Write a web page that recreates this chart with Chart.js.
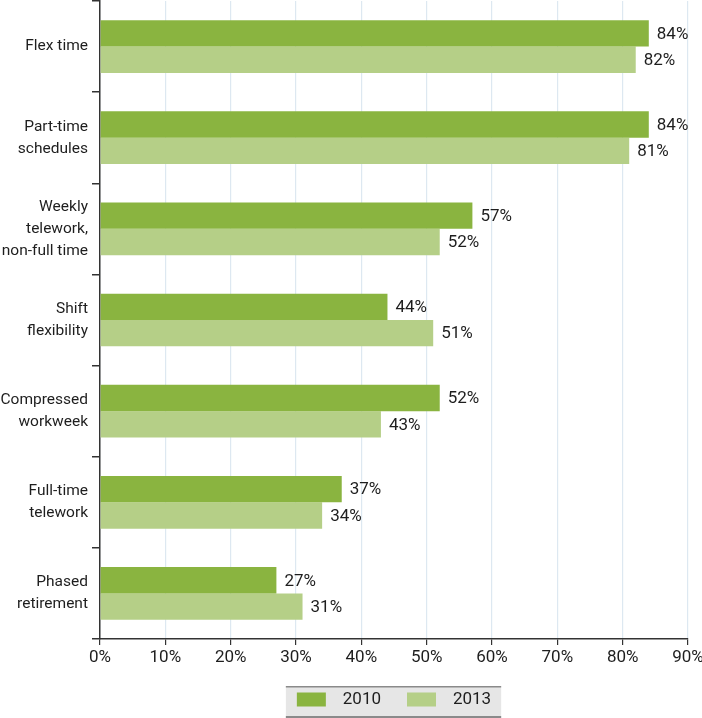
<!DOCTYPE html>
<html>
<head>
<meta charset="utf-8">
<script src="https://cdn.jsdelivr.net/npm/chart.js@4/dist/chart.umd.min.js"></script>
<style>
  html, body { margin: 0; padding: 0; background: #fff; }
  #wrap { width: 702px; height: 718px; position: relative; }
</style>
</head>
<body>
<div id="wrap"><canvas id="chart"></canvas></div>
<script>
// chart data
const categories = [
  'Flex time',
  ['Part-time', 'schedules'],
  ['Weekly', 'telework,', 'non-full time'],
  ['Shift', 'flexibility'],
  ['Compressed', 'workweek'],
  ['Full-time', 'telework'],
  ['Phased', 'retirement']
];
const seriesNames = ['2010', '2013'];
const values2010 = [84, 84, 57, 44, 52, 37, 27];
const values2013 = [82, 81, 52, 51, 43, 34, 31];
const xTicks = [0, 10, 20, 30, 40, 50, 60, 70, 80, 90];

const FONT = '"Liberation Sans Narrow", Roboto, "Liberation Sans", sans-serif';

// value labels at the end of each bar
const barLabels = {
  id: 'barLabels',
  afterDatasetsDraw(chart) {
    const ctx = chart.ctx;
    ctx.save();
    ctx.font = '17px ' + FONT;
    ctx.fillStyle = '#1e1e1e';
    ctx.textBaseline = 'middle';
    ctx.textAlign = 'left';
    chart.data.datasets.forEach((ds, i) => {
      chart.getDatasetMeta(i).data.forEach((bar, j) => {
        ctx.fillText(ds.data[j] + '%', bar.x + 8, bar.y + 1);
      });
    });
    ctx.restore();
  }
};

// grey box behind the legend
const legendBox = {
  id: 'legendBox',
  beforeDraw(chart) {
    const lg = chart.legend;
    if (!lg || !lg.legendHitBoxes.length) return;
    const boxes = lg.legendHitBoxes;
    const last = boxes[boxes.length - 1];
    const left = boxes[0].left - 11;
    const right = last.left + last.width + 10;
    const top = 686, bottom = 718;
    const ctx = chart.ctx;
    ctx.save();
    ctx.fillStyle = '#e6e6e6';
    ctx.fillRect(left, top, right - left, bottom - top);
    ctx.fillStyle = '#8a8a8a';
    ctx.fillRect(left, top, right - left, 1.5);
    ctx.fillRect(left, bottom - 2, right - left, 2);
    ctx.restore();
  }
};

new Chart(document.getElementById('chart'), {
  type: 'bar',
  data: {
    labels: categories,
    datasets: [
      { label: seriesNames[0], data: values2010, backgroundColor: '#8ab440' },
      { label: seriesNames[1], data: values2013, backgroundColor: '#b5cf87' }
    ]
  },
  options: {
    indexAxis: 'y',
    responsive: true,
    maintainAspectRatio: false,
    animation: false,
    layout: { padding: { top: 1, right: 0, left: 0, bottom: 0 } },
    datasets: {
      bar: { categoryPercentage: 0.578, barPercentage: 1.0 }
    },
    scales: {
      x: {
        min: 0,
        max: 90,
        afterBuildTicks(scale) {
          scale.ticks = xTicks.map(v => ({ value: v }));
        },
        grid: { color: '#dde8f1', tickColor: '#333', tickLength: 6, lineWidth: 1.2 },
        border: { color: '#333', width: 1.5 },
        ticks: {
          color: '#1e1e1e',
          padding: 3,
          maxRotation: 0,
          font: { family: FONT, size: 17 },
          callback: v => v + '%'
        },
        afterFit(scale) {
          scale.height = 26;
          scale.paddingRight = 14;
        }
      },
      y: {
        grid: { drawOnChartArea: false, offset: true, tickColor: '#333', tickLength: 8, lineWidth: 1.5 },
        border: { color: '#333', width: 1.5 },
        ticks: {
          color: '#1e1e1e',
          padding: 4,
          font: { family: FONT, size: 15.5, lineHeight: 22 / 15.5 }
        },
        afterFit(scale) {
          scale.width = 100;
          scale.paddingTop = 0;
          scale.paddingBottom = 0;
        }
      }
    },
    plugins: {
      legend: {
        position: 'bottom',
        fullSize: false,
        labels: {
          boxWidth: 29,
          boxHeight: 14,
          padding: 26,
          color: '#1e1e1e',
          font: { family: FONT, size: 17 },
          generateLabels(chart) {
            return Chart.defaults.plugins.legend.labels.generateLabels(chart)
              .map(item => Object.assign(item, { text: '  ' + item.text, lineWidth: 0 }));
          }
        }
      },
      tooltip: { enabled: false }
    }
  },
  plugins: [barLabels, legendBox]
});
</script>
</body>
</html>
